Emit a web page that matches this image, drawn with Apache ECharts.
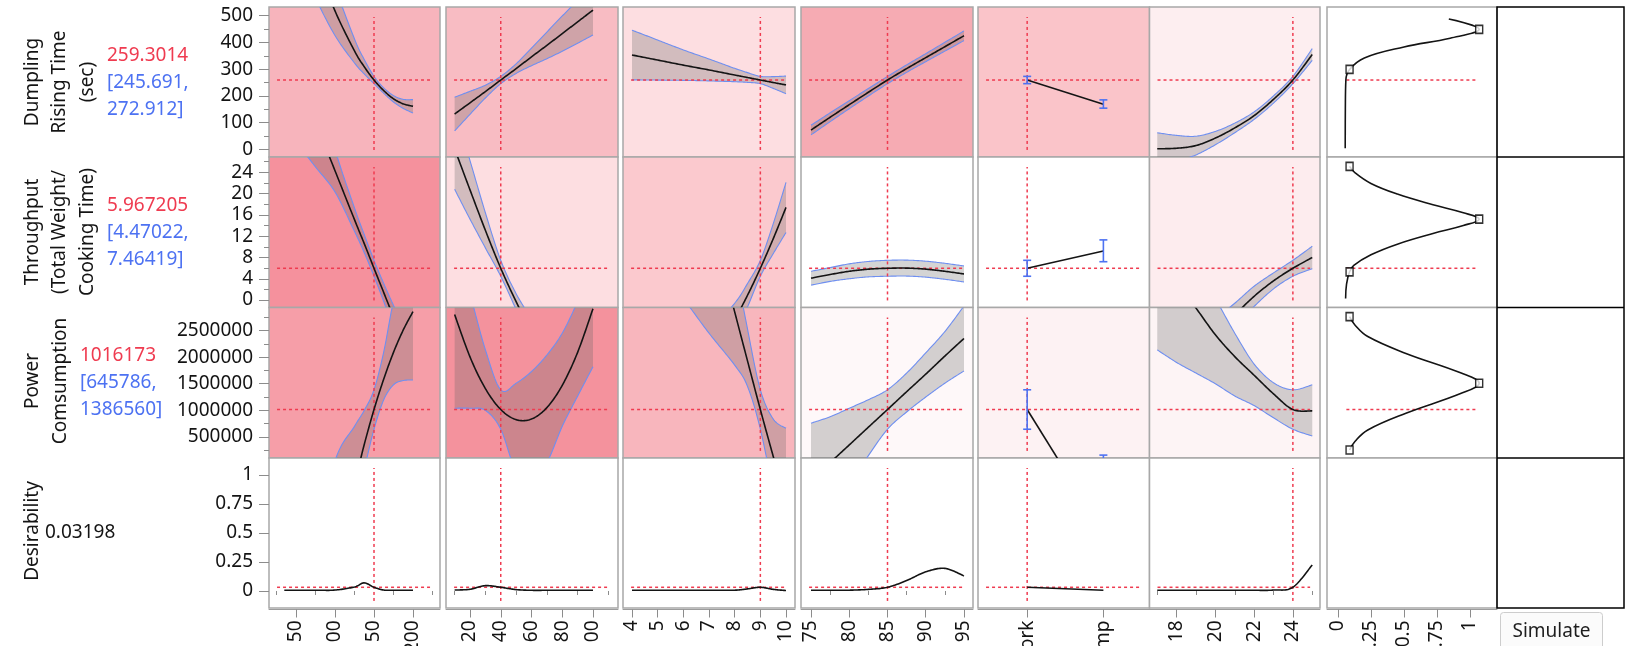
<!DOCTYPE html>
<html>
<head>
<meta charset="utf-8">
<title>Prediction Profiler</title>
<script src="https://cdn.jsdelivr.net/npm/echarts@6/dist/echarts.min.js"></script>
<style>
  html, body { margin: 0; padding: 0; background: #ffffff; }
  #profiler { width: 1626px; height: 646px; }
</style>
</head>
<body>
<div id="profiler"></div>
<script>
// ---------- factor levels at which each profile trace is sampled ----------
const f1Levels = [35, 50, 75, 100, 125, 137.5, 150, 162.5, 175, 187.5, 200];
const f2Levels = [10, 20, 30, 40, 50, 60, 70, 80, 90, 100];
const f3Levels = [4, 5, 6, 7, 8, 8.5, 9, 9.5, 10];
const f4Levels = [75, 77.5, 80, 82.5, 85, 87.5, 90, 92.5, 95];
const fillingLevels = ['Pork', 'Shrimp'];
const f6Levels = [17, 18, 19, 20, 21, 22, 23, 24, 25];

// current factor settings (filling given as its level index)
const currentSettings = [150, 40, 9, 85, 0, 24];

// ---------- responses at the current settings ----------
const responseTitles = ['Dumpling\nRising Time\n(sec)', 'Throughput\n(Total Weight/\nCooking Time)', 'Power\nComsumption', 'Desirability'];
const responseFits = [259.3014, 5.967205, 1016173, 0.03198];
const responseLower = [245.691, 4.47022, 645786];
const responseUpper = [272.912, 7.46419, 1386560];

// ---------- Dumpling Rising Time profiles ----------
const rise1 = { lo: [834, 737, 567, 426, 323, 282, 245.691, 209.6, 177, 153, 136],
                fit: [1094, 937, 707, 518, 368, 309, 259.3014, 219.6, 189, 170, 161],
                hi: [1354, 1137, 847, 610, 413, 336, 272.912, 229.6, 201, 187, 186] };
const rise2 = { lo: [69, 131, 192, 245.691, 284, 313, 339, 367, 397, 428],
                fit: [132, 174, 216, 259.3014, 302, 346, 389, 433, 477, 521],
                hi: [195, 217, 240, 272.912, 320, 379, 439, 499, 557, 614] };
const rise3 = { lo: [260, 259, 258, 256, 253, 250.5, 245.691, 228, 208],
                fit: [353, 334, 315, 297, 278, 268.7, 259.3014, 250, 241],
                hi: [446, 409, 372, 338, 303, 287, 272.912, 272, 274] };
const rise4 = { lo: [54, 103.5, 152, 199.5, 245.691, 288, 328, 367.5, 407],
                fit: [72, 120, 167, 213.5, 259.3014, 302, 343, 384, 425],
                hi: [90, 136.5, 182, 227.5, 272.912, 316, 358, 400.5, 443] };
const rise5 = { lo: [245.691, 154], fit: [259.3014, 169], hi: [272.912, 185] };
const rise6 = { lo: [-58, -44, -21, 17, 62, 112, 173, 245.691, 333],
                fit: [2, 4, 14, 42, 80, 126, 187, 259.3014, 355],
                hi: [62, 52, 49, 67, 98, 140, 200, 272.912, 377] };

// ---------- Throughput profiles ----------
const thru1 = { lo: [32.2, 29.7, 25.0, 20.3, 12.9, 8.9, 4.47022, -0.3, -5.4, -10.8, -16.4],
                fit: [48.2, 42.7, 33.5, 24.3, 15.1, 10.6, 5.967205, 1.4, -3.2, -7.8, -12.4],
                hi: [64.2, 55.7, 42.0, 28.3, 17.3, 12.3, 7.46419, 3.1, -1.0, -4.8, -8.4] };
const thru2 = { lo: [20.8, 15.2, 9.8, 4.47022, -1.8, -8.5, -14, -19, -23, -27],
                fit: [28.4, 20.7, 13.1, 5.967205, -0.3, -6, -11, -15.5, -19, -22],
                hi: [36, 26.2, 16.4, 7.46419, 1.2, -3.5, -8, -12, -15, -17] };
const thru3 = { lo: [-33.9, -30.5, -24.9, -16.9, -6.6, -1.3, 4.47022, 8.7, 12.7],
                fit: [-23.9, -21.5, -17.4, -11.4, -3.6, 0.9, 5.967205, 11.5, 17.4],
                hi: [-13.9, -12.5, -9.9, -5.9, -0.6, 3.1, 7.46419, 14.3, 22.1] };
const thru4 = { lo: [2.8, 3.5, 4.0, 4.35, 4.47022, 4.5, 4.3, 3.9, 3.4],
                fit: [4.1, 4.8, 5.4, 5.8, 5.967205, 6.0, 5.8, 5.4, 4.9],
                hi: [5.4, 6.1, 6.8, 7.25, 7.46419, 7.5, 7.3, 6.9, 6.4] };
const thru5 = { lo: [4.47022, 7.2], fit: [5.967205, 9.2], hi: [7.46419, 11.3] };
const thru6 = { lo: [-26, -20, -14.5, -9.5, -5, -1.2, 2.1, 4.47022, 5.9],
                fit: [-20, -15, -10.5, -6.5, -2.8, 0.7, 3.6, 5.967205, 8.0],
                hi: [-14, -10, -6.5, -3.5, -0.6, 2.6, 5.1, 7.46419, 10.1] };

// ---------- Power Comsumption profiles ----------
const power1 = { lo: [-8000000, -6500000, -4500000, -2600000, -800000, -100000, 645786, 1200000, 1480000, 1560000, 1570000],
                 fit: [-6000000, -4800000, -3000000, -1600000, -360000, 360000, 1016173, 1590000, 2090000, 2510000, 2855000],
                 hi: [-4000000, -3200000, -1600000, 50000, 700000, 1000000, 1386560, 2100000, 3050000, 3600000, 4200000] };
const power2 = { lo: [1040000, 1040000, 1000000, 645786, -150000, -300000, 20000, 700000, 1267000, 1820000],
                 fit: [2800000, 2004000, 1409000, 1016173, 826000, 838000, 1052000, 1470000, 2090000, 2910000],
                 hi: [4300000, 3200000, 2140000, 1386560, 1510000, 1730000, 2040000, 2450000, 3050000, 3800000] };
const power3 = { lo: [4500000, 3700000, 3100000, 2450000, 1850000, 1450000, 645786, -560000, -2060000],
                 fit: [10500000, 8700000, 6700000, 4700000, 2850000, 1930000, 1016173, 140000, -700000],
                 hi: [16500000, 13700000, 10500000, 6900000, 3850000, 2530000, 1386560, 840000, 663000] };
const power4 = { lo: [-1500000, -950000, -400000, 150000, 645786, 970000, 1250000, 1510000, 1740000],
                 fit: [-314000, 19000, 351000, 684000, 1016173, 1350000, 1680000, 2020000, 2350000],
                 hi: [760000, 880000, 1040000, 1200000, 1386560, 1700000, 2080000, 2480000, 2960000] };
const power5 = { lo: [645786, -2740000], fit: [1016173, -1290000], hi: [1386560, 160000] };
const power6 = { lo: [2136000, 1900000, 1700000, 1500000, 1270000, 1090000, 860000, 645786, 519000],
                 fit: [4000000, 3400000, 2920000, 2420000, 2010000, 1660000, 1310000, 1016173, 990000],
                 hi: [5500000, 4600000, 3700000, 3100000, 2450000, 1870000, 1520000, 1386560, 1480000] };

// ---------- overall desirability profiles ----------
const desir1 = { fit: [0.007, 0.007, 0.007, 0.008, 0.035, 0.07, 0.03198, 0.008, 0.007, 0.007, 0.007] };
const desir2 = { fit: [0.008, 0.015, 0.046, 0.03198, 0.012, 0.006, 0.006, 0.006, 0.006, 0.006] };
const desir3 = { fit: [0.006, 0.006, 0.006, 0.006, 0.007, 0.018, 0.03198, 0.014, 0.004] };
const desir4 = { fit: [0.006, 0.006, 0.007, 0.014, 0.03198, 0.09, 0.165, 0.195, 0.13] };
const desir5 = { fit: [0.03198, 0.006] };
const desir6 = { fit: [0.006, 0.006, 0.006, 0.006, 0.006, 0.006, 0.008, 0.03198, 0.225] };

// ---------- desirability functions: [desirability, response] ----------
const riseDesirability = [[0.055, 4], [0.056, 150], [0.06, 260], [0.088, 299], [0.2, 342], [0.5, 383], [0.85, 416], [1.07, 449], [0.84, 488]];
const thruDesirability = [[0.058, 0.3], [0.065, 3], [0.088, 5.3], [0.12, 6.5], [0.25, 8.5], [0.45, 10.5], [0.72, 12.5], [0.95, 14], [1.07, 15.2], [0.95, 16.4], [0.72, 17.9], [0.45, 19.9], [0.25, 21.9], [0.13, 23.9], [0.088, 25.1]];
const powerDesirability = [[0.088, 256000], [0.13, 420000], [0.226, 632000], [0.515, 946000], [0.934, 1320000], [1.07, 1510000], [0.934, 1700000], [0.515, 2070000], [0.226, 2386000], [0.13, 2600000], [0.088, 2760000]];
const riseHandles = [[0.088, 299], [1.07, 449]];
const thruHandles = [[0.088, 5.3], [1.07, 15.2], [0.088, 25.1]];
const powerHandles = [[0.088, 256000], [1.07, 1510000], [0.088, 2760000]];

// ---------- tick values ----------
const riseTicks = [0, 100, 200, 300, 400, 500];
const riseMinor = [50, 150, 250, 350, 450];
const thruTicks = [0, 4, 8, 12, 16, 20, 24];
const thruMinor = [2, 6, 10, 14, 18, 22, 26];
const powerTicks = [500000, 1000000, 1500000, 2000000, 2500000];
const powerMinor = [250000, 750000, 1250000, 1750000, 2250000, 2750000];
const desTicks = [0, 0.25, 0.5, 0.75, 1];
const f1Ticks = [50, 100, 150, 200];
const f1Minor = [25, 75, 125, 175, 225];
const f2Ticks = [20, 40, 60, 80, 100];
const f2Minor = [10, 30, 50, 70, 90, 110];
const f3Ticks = [4, 5, 6, 7, 8, 9, 10];
const f4Ticks = [75, 80, 85, 90, 95];
const f4Minor = [77.5, 82.5, 87.5, 92.5];
const fillingTicks = [0, 1];
const f6Ticks = [18, 20, 22, 24];
const f6Minor = [17, 19, 21, 23, 25];

// ---------- layout & style ----------
const FONT = '"Noto Sans", "Open Sans", "DejaVu Sans", sans-serif';
const RED = '#ef3b50';
const CI_BLUE = '#4d72f2';
const EDGE_BLUE = '#6f8ff0';
const BAND_FILL = 'rgba(100,100,100,0.28)';
const FRAME_GRAY = '#a8a8a8';
const TICK_GRAY = '#8c8c8c';
const INK = '#141414';

const colLeft = [269, 446, 623, 801, 978, 1149.5, 1327];
const colWidth = [171, 172, 172, 172, 171.5, 170.5, 170];
const rowTop = [7, 157, 307.5, 458];
const rowHeight = [150, 150.5, 150.5, 150];
const xView = [[15.4, 234.6], [4.39, 116.26], [3.65, 10.35], [73.69, 96.18], [-0.645, 1.605], [16.6, 25.4], [-0.083, 1.205]];
const yView = [[-28.8, 532.6], [-1.4, 26.87], [105600, 2931900], [-0.1466, 1.1466]];
const panelShade = [
  ['#f7b4bc', '#f8bcc3', '#fddee1', '#f6abb3', '#fac4c9', '#fdeef0', '#ffffff'],
  ['#f5919d', '#fddee1', '#fbc9ce', '#ffffff', '#ffffff', '#fdecee', '#ffffff'],
  ['#f69ea8', '#f4929d', '#f8b6bd', '#fef8f9', '#fdf2f3', '#fdf4f5', '#ffffff'],
  ['#ffffff', '#ffffff', '#ffffff', '#ffffff', '#ffffff', '#ffffff', '#ffffff']
];

const levelSets = [f1Levels, f2Levels, f3Levels, f4Levels, [0, 1], f6Levels];
const traces = [
  [rise1, rise2, rise3, rise4, rise5, rise6],
  [thru1, thru2, thru3, thru4, thru5, thru6],
  [power1, power2, power3, power4, power5, power6],
  [desir1, desir2, desir3, desir4, desir5, desir6]
];
const desirCurves = [riseDesirability, thruDesirability, powerDesirability];
const desirHandles = [riseHandles, thruHandles, powerHandles];
const xTickSets = [f1Ticks, f2Ticks, f3Ticks, f4Ticks, fillingTicks, f6Ticks, desTicks];
const xMinorSets = [f1Minor, f2Minor, null, f4Minor, null, f6Minor, null];
const yTickSets = [riseTicks, thruTicks, powerTicks, desTicks];
const yMinorSets = [riseMinor, thruMinor, powerMinor, null];

const numLabel = v => String(+(+v).toPrecision(12));
const labelStyle = { fontSize: 19, fontFamily: FONT, color: INK };

const grids = [], xAxes = [], yAxes = [], series = [];

for (let r = 0; r < 4; r++) {
  for (let c = 0; c < 7; c++) {
    const g = r * 7 + c;
    grids.push({
      left: colLeft[c], top: rowTop[r], width: colWidth[c], height: rowHeight[r],
      show: true, backgroundColor: panelShade[r][c], borderColor: FRAME_GRAY, borderWidth: 1.5,
      containLabel: false, outerBoundsMode: 'none'
    });
    const bottomRow = r === 3;
    xAxes.push({
      gridIndex: g, type: 'value', min: xView[c][0], max: xView[c][1],
      show: bottomRow, position: 'bottom', offset: 1.5,
      axisLine: { show: true, onZero: false, lineStyle: { color: '#9c9c9c', width: 1 } },
      axisTick: { show: true, customValues: xTickSets[c], length: 8, lineStyle: { color: TICK_GRAY, width: 1 } },
      axisLabel: Object.assign({ show: true, customValues: xTickSets[c], rotate: 90, margin: 11, hideOverlap: false,
        formatter: c === 4 ? (v => fillingLevels[Math.round(v)]) : numLabel }, labelStyle),
      splitLine: { show: false }
    });
    const firstCol = c === 0;
    yAxes.push({
      gridIndex: g, type: 'value', min: yView[r][0], max: yView[r][1],
      show: firstCol, position: 'left',
      axisLine: { show: false },
      axisTick: { show: true, customValues: yTickSets[r], length: 10, lineStyle: { color: TICK_GRAY, width: 1 } },
      axisLabel: Object.assign({ show: true, customValues: yTickSets[r], margin: 16, hideOverlap: false, formatter: numLabel }, labelStyle),
      splitLine: { show: false }
    });
  }
}

// minor ticks: extra axes sharing the panel's scale
for (let c = 0; c < 7; c++) {
  if (!xMinorSets[c]) continue;
  xAxes.push({
    gridIndex: 3 * 7 + c, type: 'value', min: xView[c][0], max: xView[c][1], position: 'bottom', offset: 1.5,
    axisLine: { show: false }, axisLabel: { show: false }, splitLine: { show: false },
    axisTick: { show: true, customValues: xMinorSets[c], length: 4, lineStyle: { color: TICK_GRAY, width: 1 } }
  });
}
for (let r = 0; r < 4; r++) {
  if (!yMinorSets[r]) continue;
  yAxes.push({
    gridIndex: r * 7, type: 'value', min: yView[r][0], max: yView[r][1], position: 'left',
    axisLine: { show: false }, axisLabel: { show: false }, splitLine: { show: false },
    axisTick: { show: true, customValues: yMinorSets[r], length: 5, lineStyle: { color: TICK_GRAY, width: 1 } }
  });
}

function onPanel(g, extra) {
  return Object.assign({ xAxisIndex: g, yAxisIndex: g, silent: true, animation: false }, extra);
}

// Catmull-Rom interpolation through pixel points, returned as a dense polyline
function splinePoints(pts) {
  const out = [];
  const n = pts.length;
  for (let i = 0; i < n - 1; i++) {
    const p0 = pts[Math.max(i - 1, 0)], p1 = pts[i], p2 = pts[i + 1], p3 = pts[Math.min(i + 2, n - 1)];
    for (let s = 0; s < 16; s++) {
      const t = s / 16, t2 = t * t, t3 = t2 * t;
      out.push([0, 1].map(k => 0.5 * (2 * p1[k] + (p2[k] - p0[k]) * t +
        (2 * p0[k] - 5 * p1[k] + 4 * p2[k] - p3[k]) * t2 +
        (3 * p1[k] - p0[k] - 3 * p2[k] + p3[k]) * t3)));
    }
  }
  out.push(pts[n - 1].slice());
  return out;
}

function panelClip(cs) {
  return { type: 'rect', shape: { x: cs.x, y: cs.y, width: cs.width, height: cs.height } };
}

// confidence band (fill + blue limits) of one profile trace
function bandSeries(g, xs, tr) {
  series.push(onPanel(g, {
    type: 'custom', z: 2, clip: true, data: [[xs[0], tr.fit[0]]],
    renderItem: (params, api) => {
      const lo = splinePoints(xs.map((x, i) => api.coord([x, tr.lo[i]])));
      const hi = splinePoints(xs.map((x, i) => api.coord([x, tr.hi[i]])));
      return {
        type: 'group', clipPath: panelClip(params.coordSys),
        children: [
          { type: 'polygon', shape: { points: lo.concat(hi.slice().reverse()) }, style: { fill: BAND_FILL, stroke: null } },
          { type: 'polyline', shape: { points: lo }, style: { fill: 'none', stroke: EDGE_BLUE, lineWidth: 1.1 } },
          { type: 'polyline', shape: { points: hi }, style: { fill: 'none', stroke: EDGE_BLUE, lineWidth: 1.1 } }
        ]
      };
    }
  }));
}

// predicted response trace
function fitSeries(g, xs, values, smooth) {
  series.push(onPanel(g, {
    type: 'custom', z: 4, clip: true, data: [[xs[0], values[0]]],
    renderItem: (params, api) => {
      const raw = xs.map((x, i) => api.coord([x, values[i]]));
      return {
        type: 'group', clipPath: panelClip(params.coordSys),
        children: [{ type: 'polyline', shape: { points: smooth ? splinePoints(raw) : raw },
          style: { fill: 'none', stroke: INK, lineWidth: 1.6 } }]
      };
    }
  }));
}

function refLine(g, pts) {
  series.push(onPanel(g, {
    type: 'line', data: pts, symbol: 'none', z: 3,
    lineStyle: { color: RED, width: 1.5, type: [3, 3] }
  }));
}

// confidence bars for the categorical factor, clipped to the panel
function errorBars(g, tr) {
  series.push(onPanel(g, {
    type: 'custom', z: 5,
    data: tr.fit.map((_, i) => [i, tr.lo[i], tr.hi[i]]),
    renderItem: (params, api) => {
      const top = api.coord([api.value(0), api.value(2)]);
      const bot = api.coord([api.value(0), api.value(1)]);
      const cs = params.coordSys;
      const yMin = cs.y, yMax = cs.y + cs.height;
      const style = { stroke: CI_BLUE, lineWidth: 1.6 };
      const kids = [];
      const y1 = Math.max(top[1], yMin), y2 = Math.min(bot[1], yMax);
      if (y1 < y2) kids.push({ type: 'line', shape: { x1: top[0], y1: y1, x2: top[0], y2: y2 }, style: style });
      [top[1], bot[1]].forEach(yy => {
        if (yy >= yMin - 0.5 && yy <= yMax + 0.5) {
          kids.push({ type: 'line', shape: { x1: top[0] - 4, y1: yy, x2: top[0] + 4, y2: yy }, style: style });
        }
      });
      return { type: 'group', children: kids };
    }
  }));
}

for (let r = 0; r < 4; r++) {
  const yr = yView[r];
  const ySpan = yr[1] - yr[0];
  for (let c = 0; c < 6; c++) {
    const g = r * 7 + c;
    const xs = levelSets[c];
    const tr = traces[r][c];
    const categorical = c === 4;
    const xr = xView[c];
    const xSpan = xr[1] - xr[0];

    if (r < 3 && !categorical) bandSeries(g, xs, tr);

    // current-setting reference lines
    const cur = currentSettings[c];
    refLine(g, [[cur, yr[0] + 0.047 * ySpan], [cur, yr[1] - 0.067 * ySpan]]);
    refLine(g, [[xr[0] + 0.047 * xSpan, responseFits[r]], [xr[1] - 0.058 * xSpan, responseFits[r]]]);

    fitSeries(g, xs, tr.fit, !categorical);

    if (r < 3 && categorical) errorBars(g, tr);
  }

  // desirability function column
  if (r < 3) {
    const g = r * 7 + 6;
    const xr = xView[6];
    const xSpan = xr[1] - xr[0];
    refLine(g, [[xr[0] + 0.114 * xSpan, responseFits[r]], [xr[1] - 0.113 * xSpan, responseFits[r]]]);
    series.push(onPanel(g, {
      type: 'line', data: desirCurves[r], smooth: 0.4, symbol: 'none', z: 4,
      lineStyle: { color: INK, width: 1.6 }
    }));
    series.push(onPanel(g, {
      type: 'scatter', data: desirHandles[r], symbol: 'rect', symbolSize: [7, 8], z: 6,
      itemStyle: { color: '#ffffff', borderColor: '#000000', borderWidth: 1.5 }
    }));
  }
}

// ---------- text and furniture ----------
const titleCenters = [[60, 82], [60, 232], [46.5, 381], [33, 531]];
const readoutPos = [[107, 56], [107, 206], [80, 356], [45, 533]];
const elements = [];
const textBase = { fontSize: 19, fontFamily: FONT };

for (let r = 0; r < 4; r++) {
  elements.push({
    type: 'text', x: titleCenters[r][0], y: titleCenters[r][1], rotation: Math.PI / 2, silent: true,
    style: Object.assign({ text: responseTitles[r], fill: INK, align: 'center', verticalAlign: 'middle', lineHeight: 27.5 }, textBase)
  });
  const p = readoutPos[r];
  elements.push({
    type: 'text', x: p[0], y: p[1], silent: true,
    style: Object.assign({ text: String(responseFits[r]), fill: r < 3 ? RED : INK, align: 'left', verticalAlign: 'middle' }, textBase)
  });
  if (r < 3) {
    elements.push({
      type: 'text', x: p[0], y: p[1] + 27, silent: true,
      style: Object.assign({ text: '[' + responseLower[r] + ',', fill: CI_BLUE, align: 'left', verticalAlign: 'middle' }, textBase)
    });
    elements.push({
      type: 'text', x: p[0], y: p[1] + 54, silent: true,
      style: Object.assign({ text: responseUpper[r] + ']', fill: CI_BLUE, align: 'left', verticalAlign: 'middle' }, textBase)
    });
  }
}

// empty simulator column
elements.push({ type: 'rect', silent: true, shape: { x: 1497, y: 7, width: 127, height: 601 },
  style: { fill: 'none', stroke: '#000000', lineWidth: 1.5 } });
[157, 307.5, 458].forEach(y => elements.push({ type: 'line', silent: true,
  shape: { x1: 1497, y1: y, x2: 1624, y2: y }, style: { stroke: '#000000', lineWidth: 1.5 } }));

// Simulate button
elements.push({ type: 'rect', silent: true, shape: { x: 1500.5, y: 612.5, width: 102, height: 44, r: 3 },
  style: { fill: '#fbfbfb', stroke: '#cdcdcd', lineWidth: 1 } });
elements.push({ type: 'text', x: 1551.5, y: 632, silent: true,
  style: Object.assign({ text: 'Simulate', fill: '#1e1e1e', align: 'center', verticalAlign: 'middle' }, textBase) });

const chart = echarts.init(document.getElementById('profiler'), null, { renderer: 'canvas' });
chart.setOption({
  animation: false,
  backgroundColor: '#ffffff',
  textStyle: { fontFamily: FONT },
  grid: grids,
  xAxis: xAxes,
  yAxis: yAxes,
  series: series,
  graphic: { elements: elements }
});
</script>
</body>
</html>
